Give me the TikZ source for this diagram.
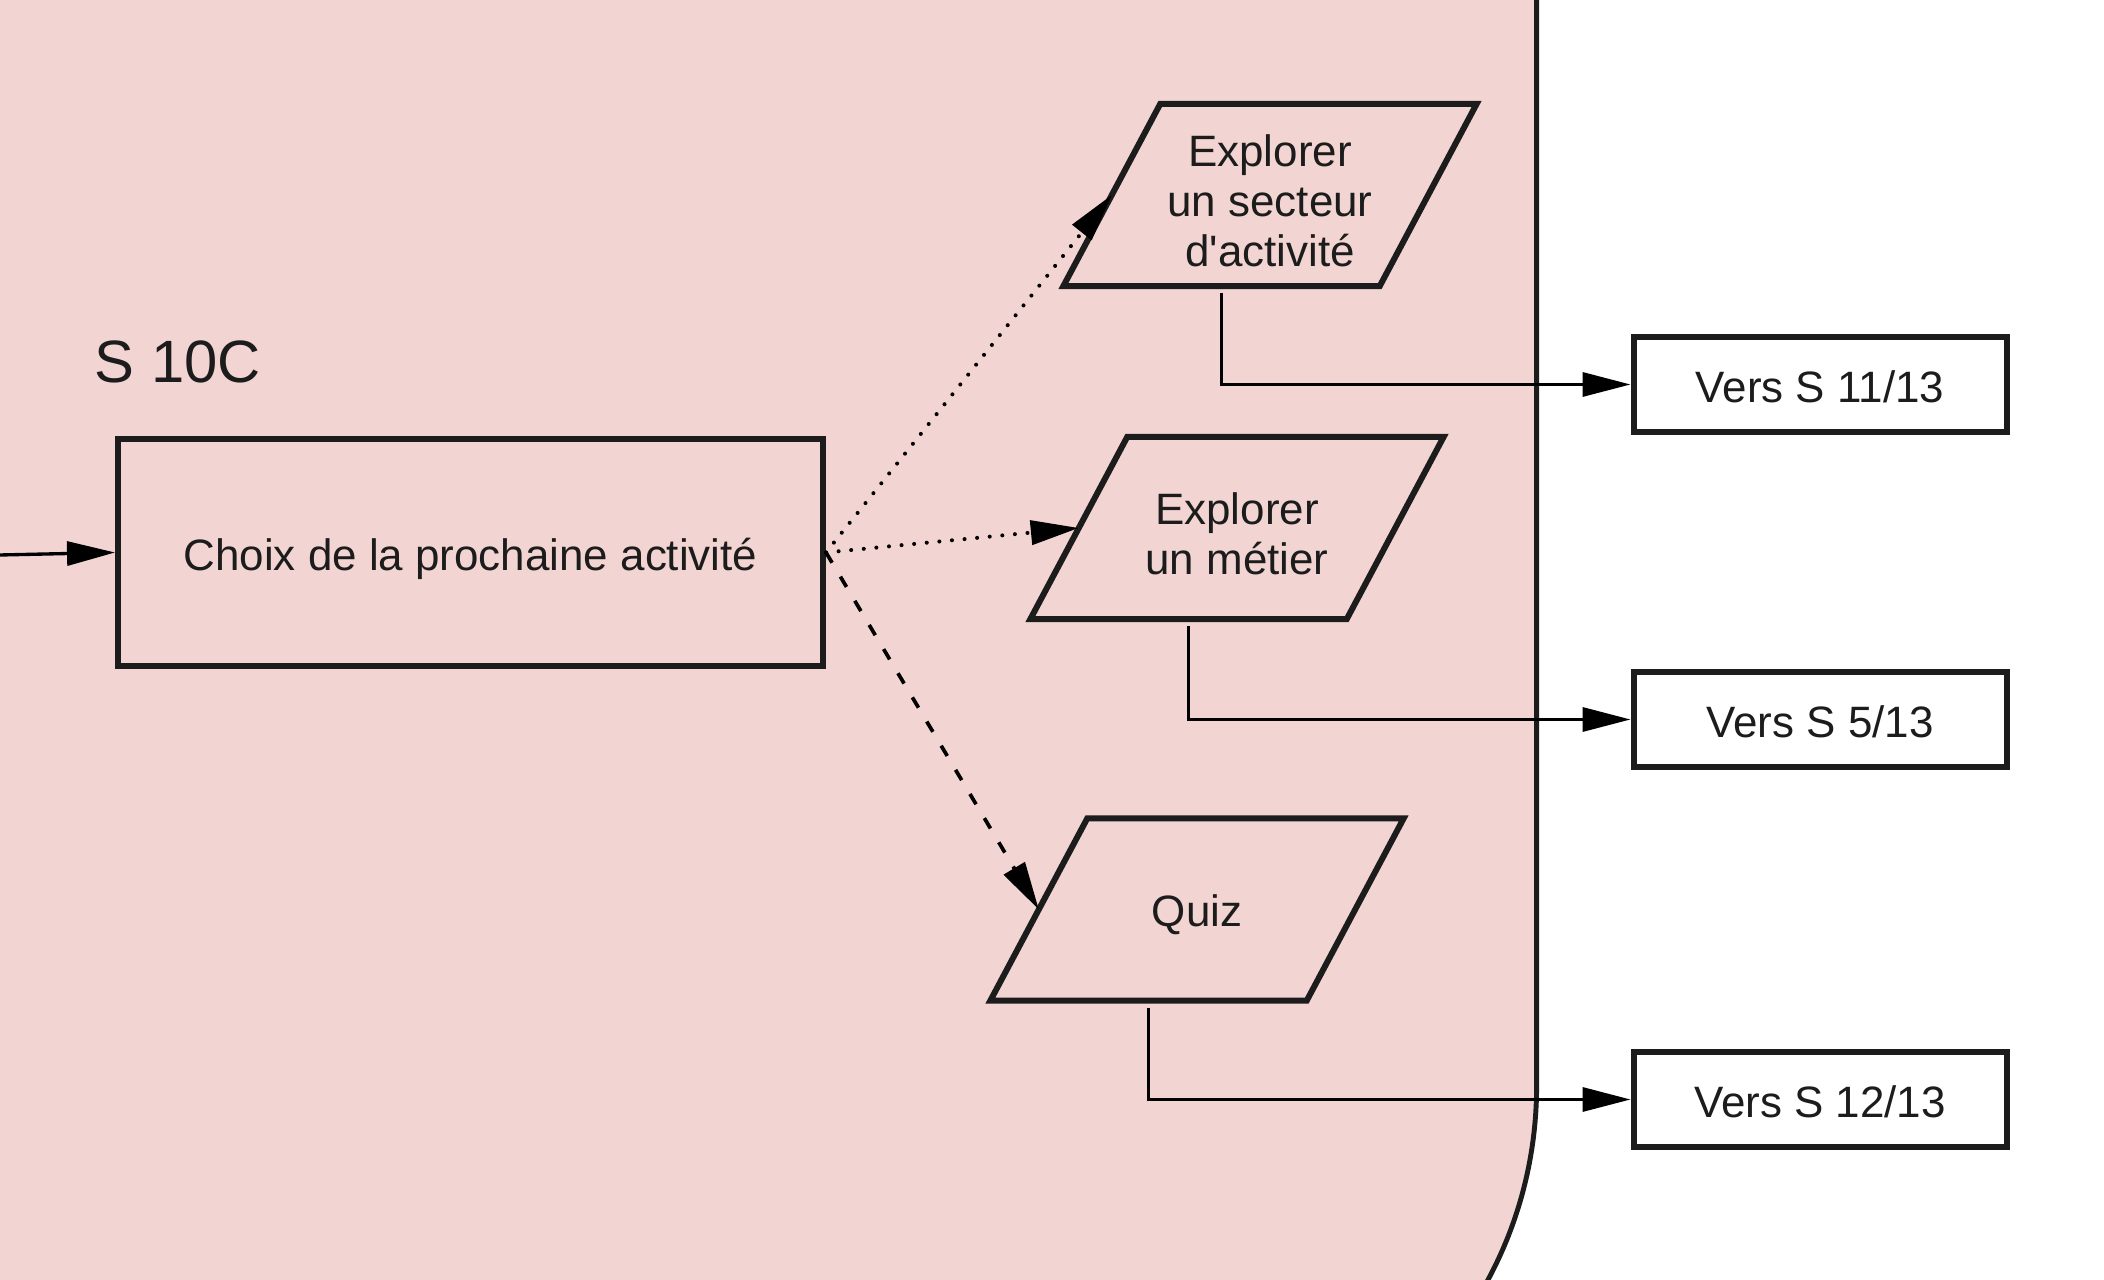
\documentclass[tikz,border=0pt]{standalone}
\usepackage{fontspec}
\setmainfont{Liberation Sans}[Ligatures=TeXOff]
\usetikzlibrary{arrows.meta}

\definecolor{sessionpink}{RGB}{242,213,210}
\definecolor{ink}{RGB}{28,28,28}

\begin{document}
\begin{tikzpicture}[
  box/.style={draw=ink, line width=1.7pt, rectangle, text=ink, align=center,
    text height=13pt, text depth=2.5pt, font=\fontsize{12.5}{14.2}\selectfont},
  choice/.style={rectangle, inner sep=0pt, minimum width=3.15cm, minimum height=1.81cm,
    text=ink, align=center, font=\fontsize{12.5}{14.2}\selectfont},
  frame/.style={draw=ink, line width=1.7pt, line join=miter},
  link/.style={draw=black, line width=0.95pt, -{Triangle[length=0.48cm,width=0.24cm]}},
  dots/.style={link, line width=1.15pt, line cap=round, dash pattern=on 0pt off 3.6pt},
  dashes/.style={link, line width=1.05pt, dash pattern=on 3.4pt off 4.6pt}
]
\clip (0,0) rectangle (21.04,-12.8);

% session area
\draw[fill=sessionpink, draw=ink, line width=1.4pt]
  (-1,1) -- (15.366,1) -- (15.366,-10.86)
  arc[start angle=0, end angle=-90, radius=4.1] -- (-1,-14.96) -- cycle;

\node[anchor=base west, inner sep=0pt, text=ink, font=\fontsize{17}{20}\selectfont] (title) at (0.94,-3.825) {S 10C};

\node[box, minimum width=7.05cm, minimum height=2.27cm] (choix) at (4.705,-5.525) {Choix de la prochaine activité};

% text sits 0.55mm below the middle of its frame
\node[choice] (secteur) at (12.70,-2.005) {Explorer\\un secteur\\d'activité};
\node[choice] (metier) at (12.37,-5.335) {Explorer\\un métier};
\node[choice] (quiz) at (11.97,-9.15) {Quiz};

% slanted frames round the choices
\foreach \n in {secteur,metier,quiz}
  \draw[frame] ([xshift=-4.85mm,yshift=0.55mm]\n.south west) -- ([xshift=-4.85mm,yshift=0.55mm]\n.south east)
    -- ([xshift=4.85mm,yshift=0.55mm]\n.north east) -- ([xshift=4.85mm,yshift=0.55mm]\n.north west) -- cycle;

\node[box, fill=white, minimum width=3.73cm, minimum height=0.95cm] (vers11) at (18.20,-3.845) {Vers S 11/13};
\node[box, fill=white, minimum width=3.73cm, minimum height=0.95cm] (vers5) at (18.20,-7.195) {Vers S 5/13};
\node[box, fill=white, minimum width=3.73cm, minimum height=0.95cm] (vers12) at (18.20,-10.995) {Vers S 12/13};

% links
\coordinate (entry) at (0,-5.55);
\draw[link] (entry) -- (choix.west);

\draw[dots] (choix.east) -- ([yshift=0.55mm]secteur.west);
\draw[dots] (choix.east) -- ([yshift=0.55mm]metier.west);
\draw[dashes] (choix.east) -- ([yshift=0.55mm]quiz.west);

\draw[link] ([xshift=-4.85mm,yshift=-0.15mm]secteur.south) |- (vers11.west);
\draw[link] ([xshift=-4.85mm,yshift=-0.15mm]metier.south) |- (vers5.west);
\draw[link] ([xshift=-4.85mm,yshift=-0.15mm]quiz.south) |- (vers12.west);
\end{tikzpicture}
\end{document}
